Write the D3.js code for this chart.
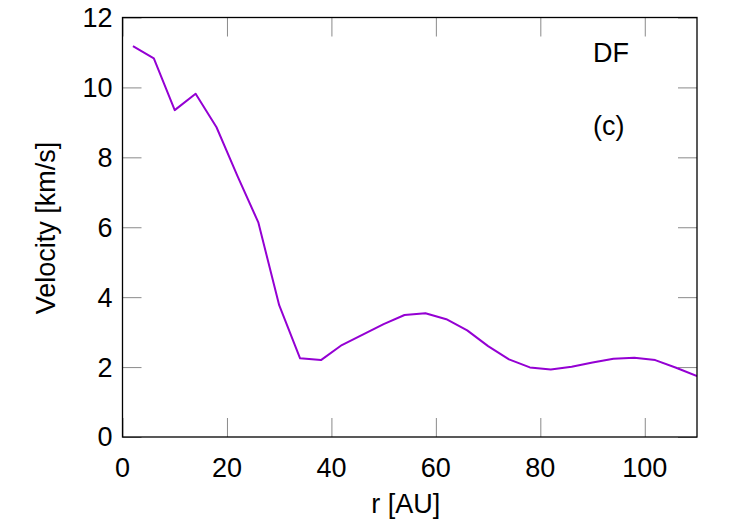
<!DOCTYPE html>
<html>
<head>
<meta charset="utf-8">
<script src="https://cdn.jsdelivr.net/npm/d3@7"></script>
<style>
  html, body { margin: 0; padding: 0; background: #fff; }
  svg { display: block; font-family: "Liberation Sans", Arial, Helvetica, sans-serif; }
</style>
</head>
<body>
<svg id="chart" width="750" height="525"></svg>
<script>
// ---- data ----
const radius = [2, 6, 10, 14, 18, 22, 26, 30, 34, 38, 42, 46, 50, 54, 58, 62, 66, 70, 74, 78, 82, 86, 90, 94, 98, 102, 106, 110];
const velocity = [11.18, 10.83, 9.35, 9.82, 8.86, 7.47, 6.14, 3.77, 2.25, 2.20, 2.63, 2.93, 3.23, 3.49, 3.54, 3.37, 3.05, 2.60, 2.22, 1.99, 1.93, 2.01, 2.13, 2.24, 2.27, 2.20, 1.98, 1.74];
const xTicks = [0, 20, 40, 60, 80, 100];
const yTicks = [0, 2, 4, 6, 8, 10, 12];
const xLabel = "r [AU]";
const yLabel = "Velocity [km/s]";
const notes = ["DF", "(c)"];

// ---- layout ----
const svg = d3.select("#chart");
const pL = 122.5, pR = 697, pT = 17.5, pB = 437;
const x = d3.scaleLinear().domain([0, 110]).range([pL, pR]);
const y = d3.scaleLinear().domain([0, 12]).range([pB, pT]);
const fs = "27px";
const tickLen = 19;

// clip
svg.append("defs").append("clipPath").attr("id", "clip")
  .append("rect").attr("x", pL).attr("y", pT).attr("width", pR - pL).attr("height", pB - pT);

// inward ticks (gray) using d3 axes
const tickStyle = g => {
  g.select(".domain").remove();
  g.selectAll(".tick line").attr("stroke", "#8a8a8a").attr("stroke-width", 1);
  g.selectAll(".tick text").remove();
};
svg.append("g").attr("transform", `translate(0,${pB})`)
  .call(d3.axisTop(x).tickValues(xTicks).tickSize(tickLen)).call(tickStyle);
svg.append("g").attr("transform", `translate(0,${pT})`)
  .call(d3.axisBottom(x).tickValues(xTicks).tickSize(tickLen)).call(tickStyle);
svg.append("g").attr("transform", `translate(${pL},0)`)
  .call(d3.axisRight(y).tickValues(yTicks).tickSize(tickLen)).call(tickStyle);
svg.append("g").attr("transform", `translate(${pR},0)`)
  .call(d3.axisLeft(y).tickValues(yTicks).tickSize(tickLen)).call(tickStyle);

// tick labels
svg.append("g").selectAll("text").data(xTicks).join("text")
  .attr("x", d => x(d)).attr("y", pB + 40)
  .attr("text-anchor", "middle").attr("font-size", fs).attr("fill", "#000")
  .text(d => d);
svg.append("g").selectAll("text").data(yTicks).join("text")
  .attr("x", pL - 10).attr("y", d => y(d)).attr("dy", "0.35em")
  .attr("text-anchor", "end").attr("font-size", fs).attr("fill", "#000")
  .text(d => d);

// line
const line = d3.line().x((d, i) => x(radius[i])).y(d => y(d));
svg.append("path").datum(velocity)
  .attr("clip-path", "url(#clip)")
  .attr("d", line)
  .attr("fill", "none").attr("stroke", "#9400d3").attr("stroke-width", 2)
  .attr("stroke-linejoin", "round");

// frame
svg.append("rect").attr("x", pL).attr("y", pT).attr("width", pR - pL).attr("height", pB - pT)
  .attr("fill", "none").attr("stroke", "#000").attr("stroke-width", 1.3);

// axis labels
svg.append("text").attr("x", (pL + pR) / 2 - 4).attr("y", 513)
  .attr("text-anchor", "middle").attr("font-size", fs).text(xLabel);
svg.append("text").attr("transform", `translate(55,228) rotate(-90)`)
  .attr("text-anchor", "middle").attr("font-size", fs).text(yLabel);

// annotations
svg.append("text").attr("x", 593).attr("y", 62).attr("font-size", fs).text(notes[0]);
svg.append("text").attr("x", 593).attr("y", 135).attr("font-size", fs).text(notes[1]);
</script>
</body>
</html>
